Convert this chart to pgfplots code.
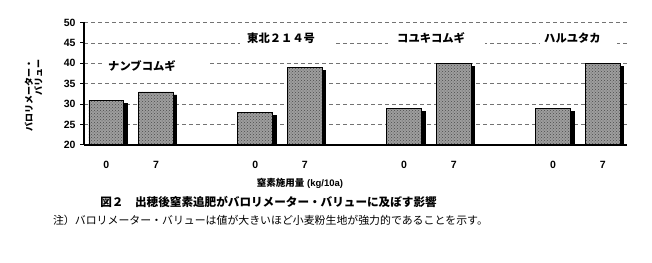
\documentclass[border=0pt]{standalone}
\usepackage{pgfplots}
\pgfplotsset{compat=1.18}
\usetikzlibrary{patterns}
\usepackage{fontspec}
\setmainfont{Liberation Sans}
\newfontfamily\jp{Noto Sans CJK JP}
\begin{document}
\begin{tikzpicture}
\path (-84pt,-117pt) rectangle (568pt,145pt);
\begin{axis}[
  at={(0pt,0pt)}, anchor=south west,
  scale only axis, width=543pt, height=122.5pt,
  xmin=-0.45, xmax=10.49, ymin=20, ymax=50,
  axis x line=bottom, axis y line=left,
  axis line style={line width=2pt, -},
  every outer x axis line/.append style={-},
  every outer y axis line/.append style={-},
  ytick={20,25,...,50},
  xtick={0,1,3,4,6,7,9,10},
  xticklabels={0,7,0,7,0,7,0,7},
  x tick style={draw=none},
  y tick style={line width=1pt, black},
  tick align=outside, major tick length=4pt,
  ymajorgrids,
  grid style={black!55, line width=0.7pt, dash pattern=on 4pt off 3pt},
  /pgf/number format/assume math mode=true,
  ticklabel style={font=\bfseries\fontsize{10.5}{12}\selectfont},
  xticklabel style={yshift=-9pt},
  yticklabel style={xshift=-1pt},
  after end axis/.code={
    \draw[line width=2pt] (rel axis cs:0,0) -- (rel axis cs:1,0);
  },
]
\addplot[ybar, bar width=0.7, bar shift=0pt, draw=black, line width=0.8pt,
  fill=black!38,
  postaction={pattern=crosshatch dots, pattern color=black!70},
  preaction={fill=black, draw=black, transform canvas={xshift=3.5pt, yshift=-3pt}}]
  coordinates {(0,31) (1,33) (3,28) (4,39) (6,29) (7,40) (9,29) (10,40)};
\end{axis}
% group label boxes (cover grid lines) and labels
\fill[white] (21pt,72pt) rectangle (124pt,88pt);
\fill[white] (156pt,99pt) rectangle (251pt,114pt);
\fill[white] (304pt,99pt) rectangle (401pt,114pt);
\fill[white] (456pt,99pt) rectangle (533pt,114pt);
\node[anchor=west, inner sep=0pt, font=\jp\bfseries\fontsize{11.3}{12}\selectfont] at (24pt,78.5pt) {ナンブコムギ};
\node[anchor=west, inner sep=0pt, font=\jp\bfseries\fontsize{11.3}{12}\selectfont] at (163pt,107pt) {東北２１４号};
\node[anchor=west, inner sep=0pt, font=\jp\bfseries\fontsize{11.3}{12}\selectfont] at (313pt,107pt) {コユキコムギ};
\node[anchor=west, inner sep=0pt, font=\jp\bfseries\fontsize{11.3}{12}\selectfont] at (460pt,107pt) {ハルユタカ};
% y label
\node[rotate=90, align=right, inner sep=0pt, font=\jp\bfseries\fontsize{9}{9.5}\selectfont] at (-50.5pt,49pt) {バロリメーター・\\バリュー};
% x label
\node[inner sep=0pt, font=\bfseries\fontsize{9.5}{11}\selectfont] at (216pt,-38pt) {{\jp 窒素施用量} (kg/10a)};
% caption
\node[inner sep=0pt, font=\jp\bfseries\fontsize{11.6}{13}\selectfont] at (184.5pt,-57pt) {図２　出穂後窒素追肥がバロリメーター・バリューに及ぼす影響};
\node[inner sep=0pt, font=\jp\fontsize{10.9}{12}\selectfont] at (186.5pt,-75pt) {注）バロリメーター・バリューは値が大きいほど小麦粉生地が強力的であることを示す。};
\end{tikzpicture}
\end{document}
